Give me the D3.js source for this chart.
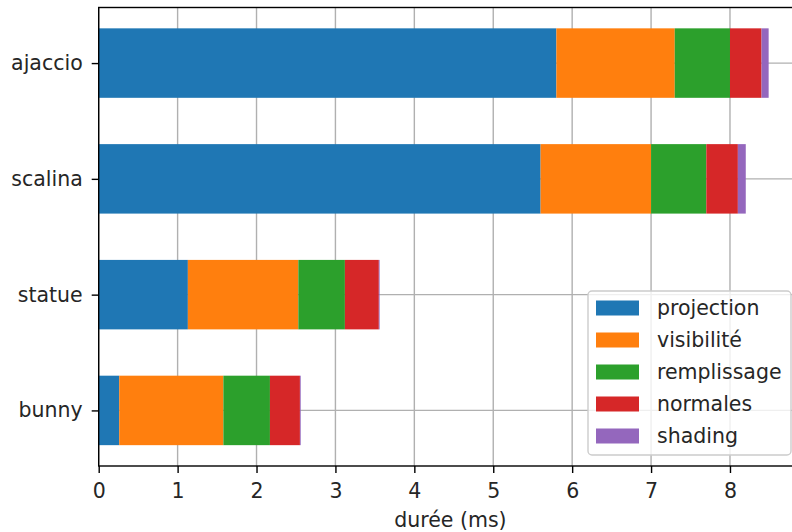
<!DOCTYPE html>
<html>
<head>
<meta charset="utf-8">
<script src="https://cdn.jsdelivr.net/npm/d3@7"></script>
<style>
  html, body { margin: 0; padding: 0; background: #fff; }
  svg { display: block; font-family: "DejaVu Sans", sans-serif; }
</style>
</head>
<body>
<svg id="chart" width="792" height="532"></svg>
<script>
// ---- data ----
const categories = ["bunny", "statue", "scalina", "ajaccio"];
const seriesNames = ["projection", "visibilité", "remplissage", "normales", "shading"];
const projection  = [0.26, 1.13, 5.60, 5.80];
const visibilite  = [1.32, 1.40, 1.40, 1.50];
const remplissage = [0.59, 0.59, 0.70, 0.70];
const normales    = [0.38, 0.43, 0.40, 0.40];
const shading     = [0.01, 0.01, 0.10, 0.09];
const xTicks = [0, 1, 2, 3, 4, 5, 6, 7, 8];
const xLabel = "durée (ms)";
const colors = ["#1f77b4", "#ff7f0e", "#2ca02c", "#d62728", "#9467bd"];

// ---- layout ----
const svg = d3.select("#chart");
const mLeft = 98.7, mTop = 7.5, mBottom = 466;
const FS = 20.5;
const seriesValues = [projection, visibilite, remplissage, normales, shading];
const totals = categories.map((c, i) => d3.sum(seriesValues, s => s[i]));
const xMax = d3.max(totals) * 1.05;
const pxPerUnit = 78.91;
const mRight = mLeft + xMax * pxPerUnit;

const x = d3.scaleLinear().domain([0, xMax]).range([mLeft, mRight]);
const y = d3.scaleLinear().domain([-0.48, categories.length - 1 + 0.48]).range([mBottom, mTop]);
const barH = Math.abs(y(0.3) - y(-0.3));

const rows = categories.map((c, i) => {
  const o = { cat: c, idx: i };
  seriesNames.forEach((s, k) => o[s] = seriesValues[k][i]);
  return o;
});
const stack = d3.stack().keys(seriesNames)(rows);

// grid
const grid = svg.append("g").attr("stroke", "#b0b0b0").attr("stroke-width", 1.4);
xTicks.forEach(t => grid.append("line").attr("x1", x(t)).attr("x2", x(t)).attr("y1", mTop).attr("y2", mBottom));
categories.forEach((c, i) => grid.append("line").attr("x1", mLeft).attr("x2", mRight).attr("y1", y(i)).attr("y2", y(i)));

// bars
stack.forEach((layer, k) => {
  svg.append("g").attr("fill", colors[k]).selectAll("rect").data(layer).join("rect")
    .attr("x", d => x(d[0]))
    .attr("width", d => Math.max(0, x(d[1]) - x(d[0])))
    .attr("y", (d, i) => y(i) - barH / 2)
    .attr("height", barH);
});

// spines
const sp = svg.append("g").attr("stroke", "#000").attr("stroke-width", 1.4).attr("fill", "none");
sp.append("rect").attr("x", mLeft).attr("y", mTop).attr("width", mRight - mLeft).attr("height", mBottom - mTop);

// x axis
const xAxis = d3.axisBottom(x).tickValues(xTicks).tickFormat(d3.format("d")).tickSize(7).tickPadding(7);
const gx = svg.append("g").attr("transform", `translate(0,${mBottom})`).call(xAxis);
gx.select(".domain").remove();
gx.selectAll(".tick line").attr("stroke", "#000").attr("stroke-width", 1.4);
gx.selectAll(".tick text").attr("font-size", FS).attr("fill", "#262626").attr("font-family", "DejaVu Sans")
  .attr("y", 32).attr("dy", 0);

// y axis
const yAxis = d3.axisLeft(y).tickValues(categories.map((c, i) => i)).tickFormat(i => categories[i]).tickSize(7).tickPadding(9);
const gy = svg.append("g").attr("transform", `translate(${mLeft},0)`).call(yAxis);
gy.select(".domain").remove();
gy.selectAll(".tick line").attr("stroke", "#000").attr("stroke-width", 1.4);
gy.selectAll(".tick text").attr("font-size", FS).attr("fill", "#262626").attr("font-family", "DejaVu Sans");

// x label
svg.append("text").attr("x", (mLeft + mRight) / 2).attr("y", 527).attr("text-anchor", "middle")
  .attr("font-size", FS).attr("fill", "#262626").text(xLabel);

// legend
const lg = svg.append("g");
lg.append("rect").attr("x", 588).attr("y", 291).attr("width", 203).attr("height", 164).attr("rx", 4)
  .attr("fill", "#fff").attr("fill-opacity", 0.8).attr("stroke", "#cccccc").attr("stroke-width", 1.4);
seriesNames.forEach((s, k) => {
  const cy = 308 + k * 32;
  lg.append("rect").attr("x", 596).attr("y", cy - 7.5).attr("width", 43).attr("height", 15).attr("fill", colors[k]);
  lg.append("text").attr("x", 657).attr("y", cy).attr("dy", "0.35em").attr("font-size", FS).attr("fill", "#262626").text(s);
});
</script>
</body>
</html>
